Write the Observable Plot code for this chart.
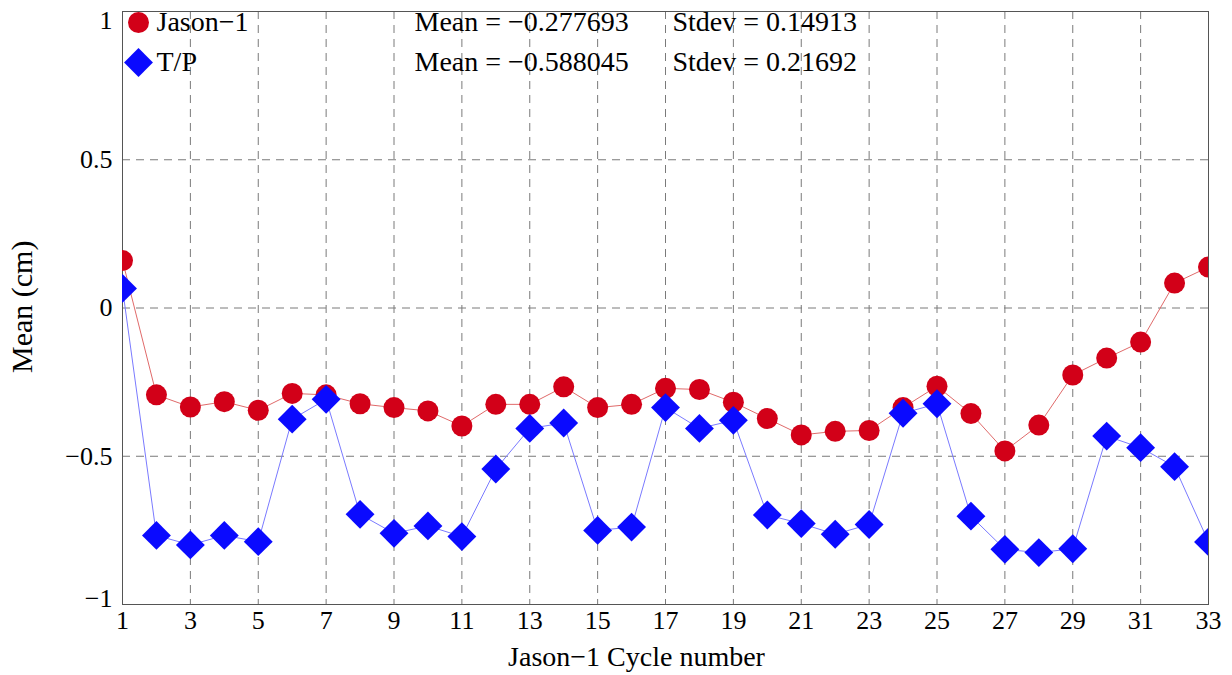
<!DOCTYPE html>
<html>
<head>
<meta charset="utf-8">
<script src="https://cdn.jsdelivr.net/npm/d3@7"></script>
<script src="https://cdn.jsdelivr.net/npm/@observablehq/plot@0.6"></script>
<style>
  html, body { margin: 0; padding: 0; background: #fff; }
  #chart { width: 1232px; height: 675px; }
</style>
</head>
<body>
<div id="chart"></div>
<script>
const cycles = [1,2,3,4,5,6,7,8,9,10,11,12,13,14,15,16,17,18,19,20,21,22,23,24,25,26,27,28,29,30,31,32,33];
const jason1 = [0.16,-0.293,-0.334,-0.316,-0.345,-0.288,-0.293,-0.323,-0.336,-0.347,-0.398,-0.325,-0.325,-0.266,-0.336,-0.325,-0.271,-0.275,-0.318,-0.373,-0.428,-0.416,-0.413,-0.336,-0.264,-0.356,-0.482,-0.395,-0.226,-0.169,-0.115,0.084,0.138];
const tp = [0.066,-0.767,-0.799,-0.767,-0.788,-0.375,-0.308,-0.696,-0.760,-0.735,-0.771,-0.543,-0.406,-0.388,-0.750,-0.739,-0.336,-0.406,-0.379,-0.698,-0.727,-0.763,-0.730,-0.355,-0.323,-0.702,-0.814,-0.825,-0.812,-0.432,-0.471,-0.535,-0.789];
const xTicks = [1,3,5,7,9,11,13,15,17,19,21,23,25,27,29,31,33];
const yTicksMid = [-0.5,0,0.5];
const yTickTop = [1];
const yTickBottom = [-1];
const yGrid = [-0.5,0,0.5];
const seriesNames = ["Jason\u22121", "T/P"];
const statsMean = ["Mean = \u22120.277693", "Mean = \u22120.588045"];
const statsStd = ["Stdev = 0.14913", "Stdev = 0.21692"];
const xLabel = "Jason\u22121 Cycle number";
const yLabel = "Mean (cm)";

const RED = "#d20018", BLUE = "#0a0aff";
const jData = cycles.map((c,i) => ({c, v: jason1[i]}));
const tData = cycles.map((c,i) => ({c, v: tp[i]}));
const fmt = d => (d < 0 ? "\u2212" : "") + Math.abs(d);

const chart = Plot.plot({
  width: 1232, height: 675,
  marginLeft: 122, marginRight: 24, marginTop: 11, marginBottom: 71,
  style: { fontFamily: "'Liberation Serif', 'Times New Roman', serif", fontSize: "26px", color: "#000", background: "#fff" },
  x: { domain: [1, 33] },
  y: { domain: [-1, 1] },
  marks: [
    Plot.gridX(xTicks, { stroke: "#7a7a7a", strokeOpacity: 1, strokeDasharray: "8,6" }),
    Plot.gridY(yGrid, { stroke: "#7a7a7a", strokeOpacity: 1, strokeDasharray: "8,6" }),
    Plot.frame({ stroke: "#555", strokeWidth: 1 }),
    Plot.axisX(xTicks, { tickSize: 0, tickPadding: 6, tickFormat: fmt, label: null, fontSize: 26 }),
    Plot.axisY(yTicksMid, { tickSize: 0, tickPadding: 10, tickFormat: fmt, label: null, fontSize: 26 }),
    Plot.axisY(yTickTop, { tickSize: 0, tickPadding: 10, tickFormat: fmt, label: null, fontSize: 26, dy: 9 }),
    Plot.axisY(yTickBottom, { tickSize: 0, tickPadding: 10, tickFormat: fmt, label: null, fontSize: 26, dy: -6 }),
    Plot.text([xLabel], { frameAnchor: "bottom", dx: -29, dy: 61, fontSize: 28 }),
    Plot.text([yLabel], { frameAnchor: "left", dx: -100, dy: 65, rotate: -90, fontSize: 30 }),
    Plot.line(jData, { x: "c", y: "v", stroke: "#e06a6a", strokeWidth: 1, clip: true }),
    Plot.line(tData, { x: "c", y: "v", stroke: "#7a7aff", strokeWidth: 1, clip: true }),
    Plot.dot(jData, { x: "c", y: "v", r: 10.5, fill: RED, stroke: null, clip: true }),
    Plot.dot(tData, { x: "c", y: "v", r: 13, symbol: "diamond2", fill: BLUE, stroke: null, clip: true }),
    // legend
    Plot.dot([seriesNames[0]], { frameAnchor: "top-left", dx: 16, dy: 11, r: 10.5, fill: RED }),
    Plot.dot([seriesNames[1]], { frameAnchor: "top-left", dx: 16, dy: 51, r: 13, symbol: "diamond2", fill: BLUE }),
    Plot.text([seriesNames[0]], { frameAnchor: "top-left", dx: 34, dy: 11, text: d => d, textAnchor: "start", lineAnchor: "middle", fontSize: 28 }),
    Plot.text([seriesNames[1]], { frameAnchor: "top-left", dx: 34, dy: 51, text: d => d, textAnchor: "start", lineAnchor: "middle", fontSize: 28 }),
    Plot.text([statsMean[0]], { frameAnchor: "top-left", dx: 292, dy: 11, text: d => d, textAnchor: "start", lineAnchor: "middle", fontSize: 28 }),
    Plot.text([statsMean[1]], { frameAnchor: "top-left", dx: 292, dy: 51, text: d => d, textAnchor: "start", lineAnchor: "middle", fontSize: 28 }),
    Plot.text([statsStd[0]], { frameAnchor: "top-left", dx: 550, dy: 11, text: d => d, textAnchor: "start", lineAnchor: "middle", fontSize: 28 }),
    Plot.text([statsStd[1]], { frameAnchor: "top-left", dx: 550, dy: 51, text: d => d, textAnchor: "start", lineAnchor: "middle", fontSize: 28 })
  ]
});
document.getElementById("chart").appendChild(chart);
</script>
</body>
</html>
